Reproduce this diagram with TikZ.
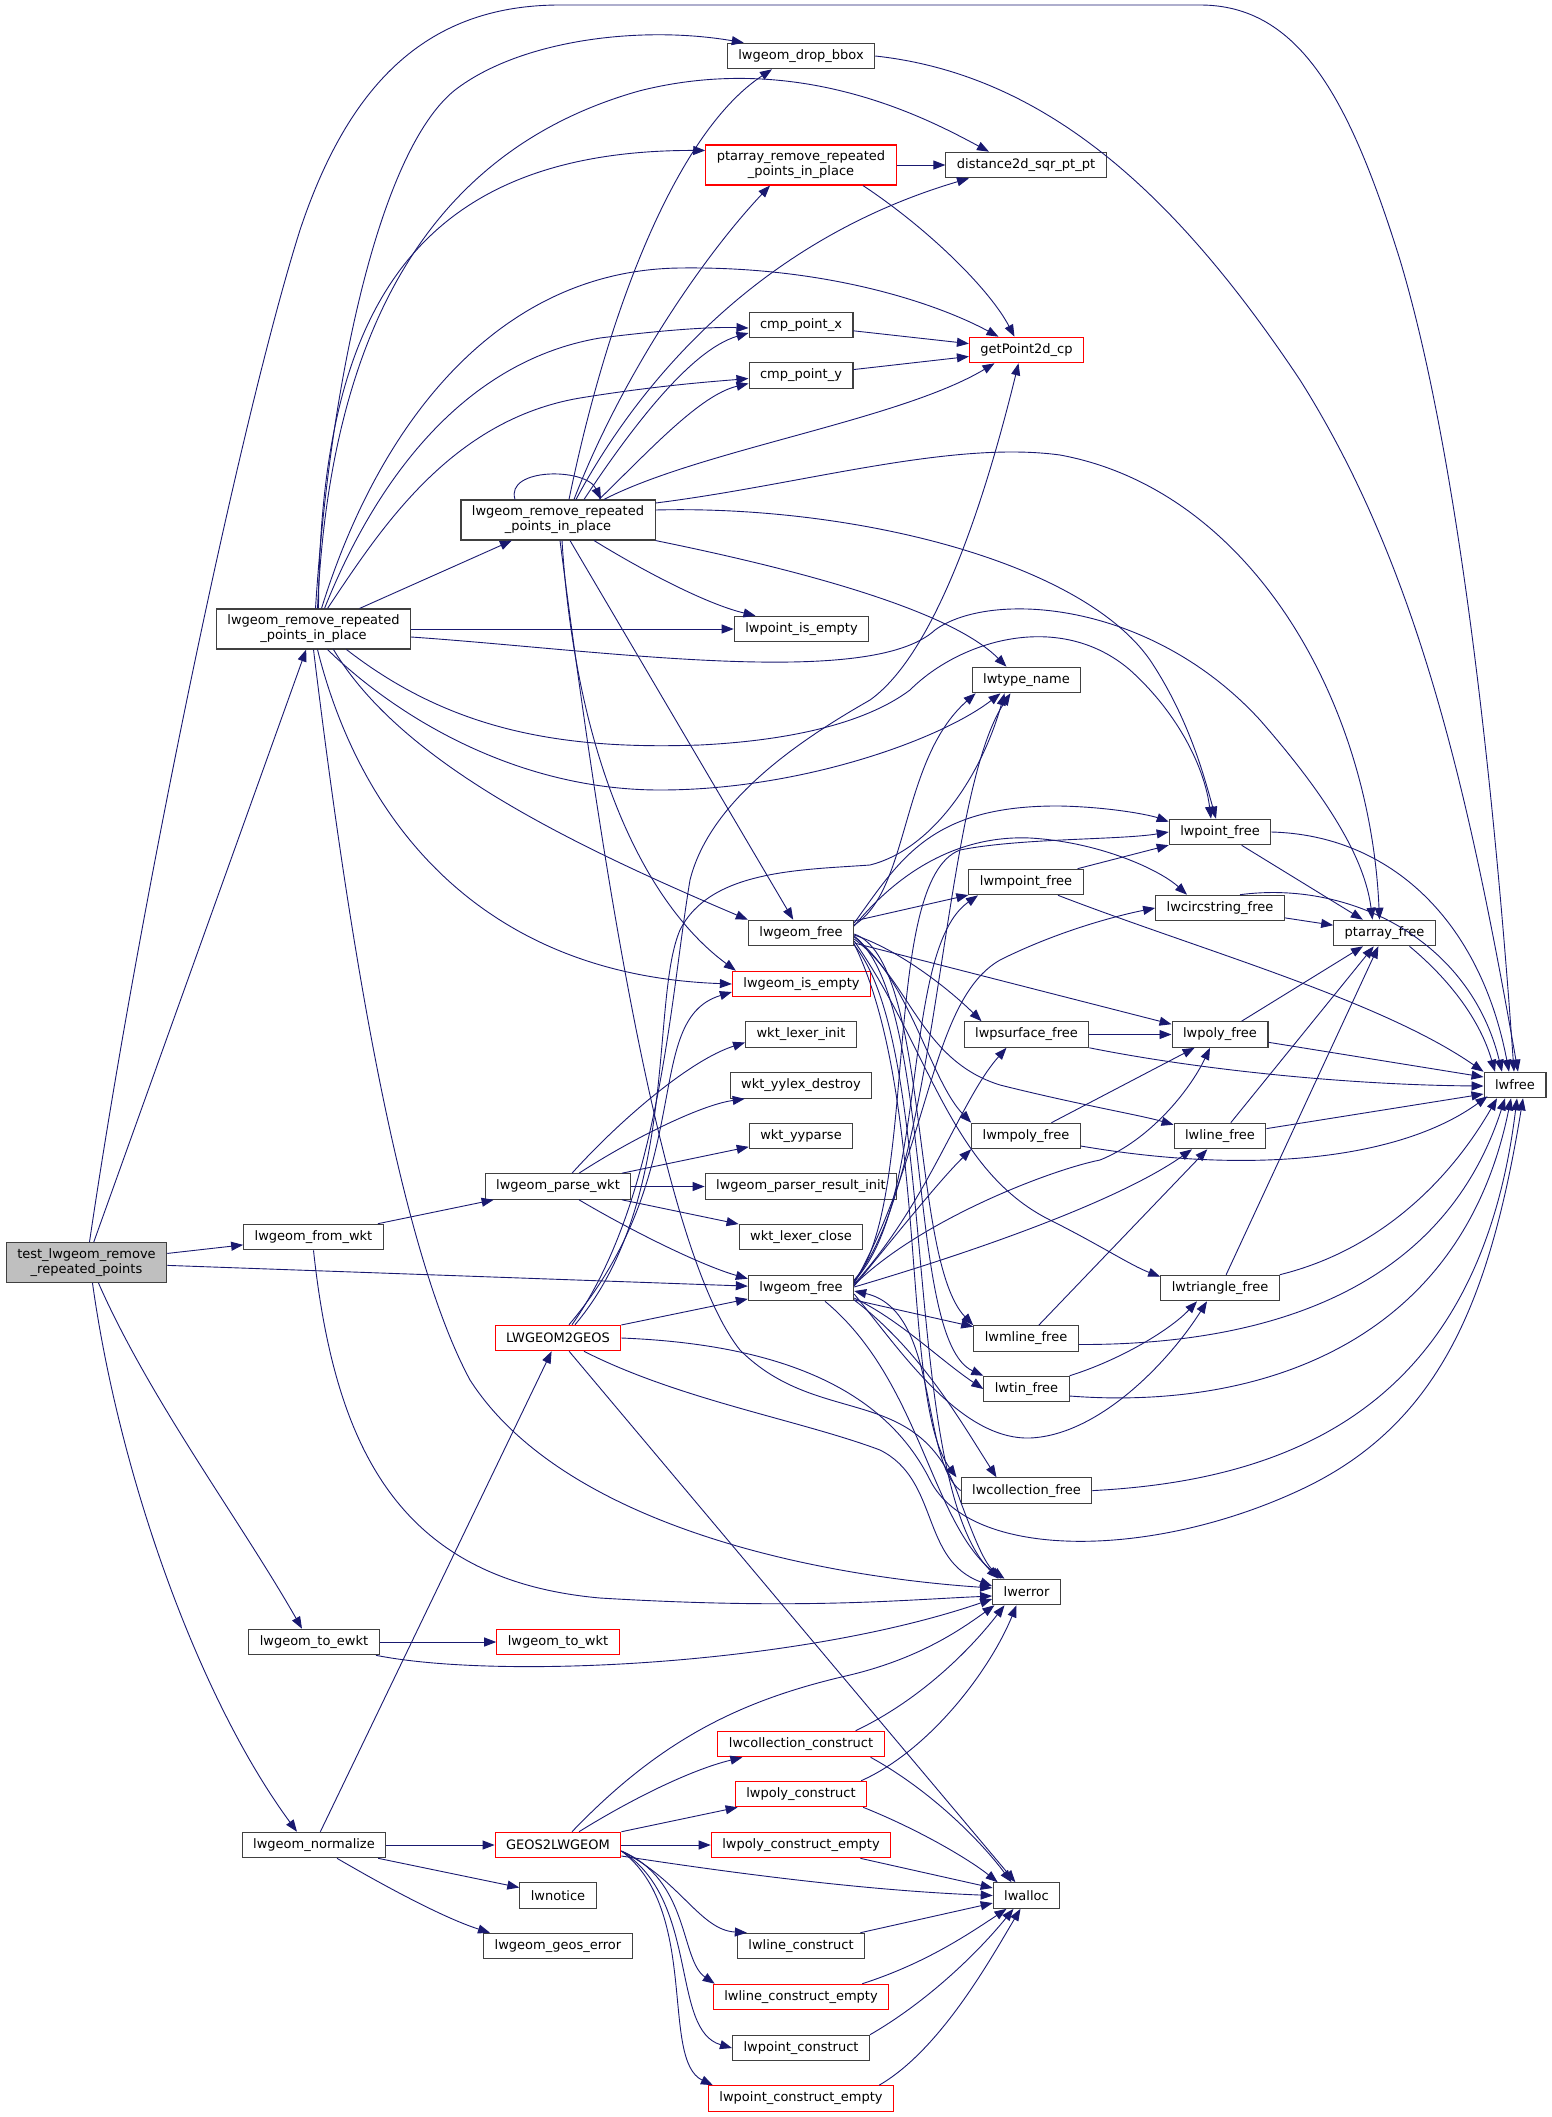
\documentclass[tikz,border=0pt]{standalone}
\usepackage{fontspec}
\setmainfont{DejaVu Sans}
\usetikzlibrary{arrows.meta}
\definecolor{edgeblue}{HTML}{191970}
\definecolor{boxgray}{HTML}{404040}
\definecolor{rootfill}{HTML}{BFBFBF}
\newcommand\fnsize{\fontsize{13pt}{15pt}\selectfont}
\tikzset{
  fn/.style={draw=boxgray, line width=1.1pt, font=\fnsize, inner xsep=11pt, inner ysep=0pt, minimum height=25.5pt, align=center},
  fnr/.style={fn, draw=red},
  fntwo/.style={minimum height=40pt},
  call/.style={draw=edgeblue, line width=0.9pt, -{Triangle[length=12pt,width=9pt]}}
}
\begin{document}
\begin{tikzpicture}[x=1pt,y=-1pt]
\useasboundingbox (0,0) rectangle (1552,2117);

\node[fn,fntwo,fill=rootfill] (T) at (86.5,1262.5) {test\_lwgeom\_remove\\\_repeated\_points};
\node[fn,fntwo] (rrpA) at (313.5,629) {lwgeom\_remove\_repeated\\\_points\_in\_place};
\node[fn,fntwo] (rrpB) at (558,520) {lwgeom\_remove\_repeated\\\_points\_in\_place};
\node[fn] (fromwkt) at (313.5,1237) {lwgeom\_from\_wkt};
\node[fn] (toewkt) at (314,1642) {lwgeom\_to\_ewkt};
\node[fn] (normalize) at (314,1845) {lwgeom\_normalize};
\node[fn] (parsewkt) at (558,1186.5) {lwgeom\_parse\_wkt};
\node[fnr] (geos) at (558,1338) {LWGEOM2GEOS};
\node[fnr] (towkt) at (558,1642) {lwgeom\_to\_wkt};
\node[fnr] (gtol) at (558,1845) {GEOS2LWGEOM};
\node[fn] (notice) at (558,1895.5) {lwnotice};
\node[fn] (geoserr) at (558,1946) {lwgeom\_geos\_error};
\node[fn] (dropbbox) at (801,56) {lwgeom\_drop\_bbox};
\node[fnr,fntwo] (ptrrp) at (801,165) {ptarray\_remove\_repeated\\\_points\_in\_place};
\node[fn] (cmpx) at (801,325) {cmp\_point\_x};
\node[fn] (cmpy) at (801,375.5) {cmp\_point\_y};
\node[fn] (ptempty) at (801.5,629) {lwpoint\_is\_empty};
\node[fn] (gfreeA) at (801,933) {lwgeom\_free};
\node[fnr] (isempty) at (801.5,984) {lwgeom\_is\_empty};
\node[fn] (lexinit) at (801,1034.5) {wkt\_lexer\_init};
\node[fn] (yylex) at (801,1085.5) {wkt\_yylex\_destroy};
\node[fn] (yyparse) at (801,1136) {wkt\_yyparse};
\node[fn] (resinit) at (801,1186.5) {lwgeom\_parser\_result\_init};
\node[fn] (lexclose) at (801,1237) {wkt\_lexer\_close};
\node[fn] (gfreeB) at (801,1288) {lwgeom\_free};
\node[fnr] (colcons) at (801,1744) {lwcollection\_construct};
\node[fnr] (polycons) at (801,1794) {lwpoly\_construct};
\node[fnr] (polyempty) at (801,1845) {lwpoly\_construct\_empty};
\node[fn] (linecons) at (801,1946) {lwline\_construct};
\node[fnr] (lineempty) at (801,1997) {lwline\_construct\_empty};
\node[fn] (ptcons) at (801,2048) {lwpoint\_construct};
\node[fnr] (ptconsempty) at (801,2098.5) {lwpoint\_construct\_empty};
\node[fn] (dist) at (1026,165) {distance2d\_sqr\_pt\_pt};
\node[fnr] (getpt) at (1026.5,350) {getPoint2d\_cp};
\node[fn] (typename) at (1026.5,680) {lwtype\_name};
\node[fn] (mpointfree) at (1026,882) {lwmpoint\_free};
\node[fn] (psurffree) at (1026.5,1034.5) {lwpsurface\_free};
\node[fn] (mpolyfree) at (1026,1136) {lwmpoly\_free};
\node[fn] (mlinefree) at (1026,1338.5) {lwmline\_free};
\node[fn] (tinfree) at (1026.5,1389) {lwtin\_free};
\node[fn] (colfree) at (1026.5,1490.6) {lwcollection\_free};
\node[fn] (lwerror) at (1026.5,1592) {lwerror};
\node[fn] (lwalloc) at (1026.5,1895.5) {lwalloc};
\node[fn] (ptfree) at (1220,832) {lwpoint\_free};
\node[fn] (circfree) at (1220,908) {lwcircstring\_free};
\node[fn] (polyfree) at (1220,1034.5) {lwpoly\_free};
\node[fn] (linefree) at (1220,1136) {lwline\_free};
\node[fn] (trifree) at (1220,1288) {lwtriangle\_free};
\node[fn] (ptarrfree) at (1384.5,933) {ptarray\_free};
\node[fn] (lwfree) at (1515,1085) {lwfree};

% test
\draw[call] (T) -- (rrpA);
\draw[call] ([xshift=3pt]T.north) .. controls (140,900) and (240,420) .. (300,230) .. controls (350,80) and (430,5) .. (560,5) -- (1200,5) .. controls (1300,5) and (1350,100) .. (1400,260) .. controls (1460,460) and (1495,800) .. ([xshift=-1pt]lwfree.north);
\draw[call] (T) -- (fromwkt);
\draw[call] (T) -- (gfreeB);
\draw[call] ([xshift=12pt]T.south) .. controls (150,1400) and (240,1520) .. ([xshift=-12pt]toewkt.north);
\draw[call] ([xshift=6pt]T.south) .. controls (120,1480) and (200,1700) .. ([xshift=-17pt]normalize.north);

% outer remove_repeated
\draw[call] ([xshift=2pt]rrpA.north) .. controls (330,380) and (380,150) .. (455,90) .. controls (520,40) and (640,25) .. ([xshift=17pt]dropbbox.north west);
\draw[call] ([xshift=4pt]rrpA.north) .. controls (330,330) and (430,150) .. (639,91) .. controls (800,50) and (930,120) .. ([xshift=-37pt]dist.north);
\draw[call] ([xshift=5pt]rrpA.north) .. controls (320,330) and (400,150) .. ([yshift=-6pt]ptrrp.north west);
\draw[call] ([xshift=8pt]rrpA.north) .. controls (380,420) and (500,270) .. (680,268) .. controls (830,266) and (940,305) .. ([xshift=-28pt]getpt.north);
\draw[call] ([xshift=11pt]rrpA.north) .. controls (380,470) and (470,360) .. (600,338) .. controls (680,328) and (720,327) .. ([yshift=-3pt]cmpx.west);
\draw[call] ([xshift=14pt]rrpA.north) .. controls (380,530) and (450,420) .. (580,398) .. controls (660,385) and (720,381) .. ([yshift=-3pt]cmpy.west);
\draw[call] (rrpA) -- (rrpB);
\draw[call] (rrpA) -- (ptempty);
\draw[call] ([yshift=-8pt]rrpA.east) .. controls (600,650) and (870,690) .. (935,630) .. controls (990,590) and (1150,600) .. (1260,720) .. controls (1330,800) and (1365,860) .. ([xshift=-12pt]ptarrfree.north);
\draw[call] ([xshift=33pt]rrpA.south) .. controls (450,730) and (560,750) .. (700,745) .. controls (800,740) and (870,720) .. (910,690) .. controls (960,640) and (1060,610) .. (1130,670) .. controls (1180,715) and (1205,770) .. ([xshift=-9pt]ptfree.north);
\draw[call] ([xshift=14pt]rrpA.south) .. controls (400,720) and (520,790) .. (660,790) .. controls (800,790) and (940,740) .. ([xshift=-26pt]typename.south);
\draw[call] ([xshift=20pt]rrpA.south) .. controls (400,760) and (560,840) .. (gfreeA.north west);
\draw[call] ([xshift=4pt]rrpA.south) .. controls (360,820) and (480,975) .. (isempty.west);
\draw[call] (rrpA.south) .. controls (350,950) and (400,1250) .. (470,1380) .. controls (560,1520) and (800,1575) .. ([yshift=4pt]lwerror.west);

% inner remove_repeated
\draw[call] ([xshift=-43pt]rrpB.north) .. controls +(-10,-32) and +(-15,-32) .. ([xshift=43pt]rrpB.north);
\draw[call] ([xshift=11pt]rrpB.north) .. controls (610,300) and (680,130) .. ([xshift=-29pt]dropbbox.south);
\draw[call] ([xshift=16pt]rrpB.north) .. controls (620,380) and (700,260) .. ([xshift=-31pt]ptrrp.south);
\draw[call] ([xshift=18pt]rrpB.north) .. controls (640,380) and (760,240) .. ([xshift=-57pt]dist.south);
\draw[call] ([xshift=26pt]rrpB.north) .. controls (630,430) and (690,350) .. ([yshift=-8pt]cmpx.west);
\draw[call] ([xshift=41pt]rrpB.north) .. controls (650,450) and (700,395) .. ([yshift=-8pt]cmpy.west);
\draw[call] ([xshift=46pt]rrpB.north) .. controls (700,450) and (900,420) .. ([xshift=-32pt]getpt.south);
\draw[call] ([xshift=36pt]rrpB.south) .. controls (650,575) and (710,605) .. ([xshift=-46pt]ptempty.north);
\draw[call] ([yshift=17pt]rrpB.east) .. controls (800,485) and (950,440) .. (1060,455) .. controls (1250,490) and (1370,700) .. ([xshift=-5pt]ptarrfree.north);
\draw[call] ([yshift=10pt]rrpB.east) .. controls (850,505) and (1080,560) .. (1150,660) .. controls (1190,720) and (1205,780) .. ([xshift=-4pt]ptfree.north);
\draw[call] (rrpB.south east) .. controls (800,570) and (950,610) .. ([xshift=-20pt]typename.north);
\draw[call] (rrpB) -- (gfreeA);
\draw[call] ([xshift=4pt]rrpB.south) .. controls (575,750) and (640,900) .. ([xshift=4pt]isempty.north west);
\draw[call] ([xshift=2pt]rrpB.south) .. controls (600,850) and (660,1250) .. (740,1350) .. controls (820,1430) and (920,1380) .. (960,1500) .. controls (975,1540) and (985,1565) .. ([xshift=-22pt]lwerror.north);

% lwgeom_free, upper
\draw[call] ([yshift=10pt]gfreeA.east) .. controls (900,860) and (930,805) .. (1060,806) .. controls (1110,807) and (1150,815) .. ([yshift=-3pt]ptfree.north west);
\draw[call] (gfreeA) -- (mpointfree);
\draw[call] ([yshift=7pt]gfreeA.east) .. controls (900,870) and (960,835) .. (1030,838) .. controls (1100,842) and (1160,870) .. ([xshift=-33pt]circfree.north);
\draw[call] ([yshift=-2pt]gfreeA.east) .. controls (900,950) and (950,990) .. ([xshift=-45pt]psurffree.north);
\draw[call] ([yshift=-10pt]gfreeA.east) -- ([yshift=-3pt]polyfree.north west);
\draw[call] ([yshift=-4pt]gfreeA.east) .. controls (910,980) and (930,1080) .. (mpolyfree.north west);
\draw[call] ([yshift=-6pt]gfreeA.east) .. controls (910,980) and (920,1060) .. (1000,1085) .. controls (1080,1105) and (1140,1115) .. ([yshift=-2pt]linefree.north west);
\draw[call] ([yshift=-8pt]gfreeA.east) .. controls (930,1050) and (950,1170) .. (1050,1220) .. controls (1100,1245) and (1130,1265) .. ([yshift=-2pt]trifree.north west);
\draw[call] ([yshift=-1pt]gfreeA.east) .. controls (930,960) and (910,1260) .. (mlinefree.north west);
\draw[call] ([yshift=-3pt]gfreeA.east) .. controls (935,1000) and (905,1340) .. (tinfree.north west);
\draw[call] ([yshift=-11pt]gfreeA.east) .. controls (930,1100) and (900,1400) .. ([xshift=-70pt]colfree.north);
\draw[call] ([yshift=8pt]gfreeA.east) .. controls (910,890) and (900,760) .. ([xshift=4pt]typename.south west);
\draw[call] ([yshift=-12pt]gfreeA.east) .. controls (940,1050) and (900,1480) .. ([xshift=-28pt]lwerror.north);

% lwgeom_free, lower
\draw[call] ([yshift=6pt]gfreeB.east) .. controls (920,1200) and (880,880) .. (960,850) .. controls (1020,838) and (1120,840) .. (ptfree.west);
\draw[call] ([yshift=8pt]gfreeB.east) .. controls (940,1180) and (940,800) .. ([xshift=-16pt]typename.south);
\draw[call] ([yshift=7pt]gfreeB.east) .. controls (930,1200) and (900,950) .. ([xshift=-48pt]mpointfree.south);
\draw[call] ([yshift=5pt]gfreeB.east) .. controls (930,1150) and (930,1000) .. (1000,960) .. controls (1060,930) and (1120,915) .. (circfree.west);
\draw[call] ([yshift=4pt]gfreeB.east) .. controls (930,1200) and (960,1100) .. ([xshift=-20pt]psurffree.south);
\draw[call] ([yshift=3pt]gfreeB.east) .. controls (920,1220) and (1050,1170) .. (1100,1160) .. controls (1150,1140) and (1190,1090) .. ([xshift=-10pt]polyfree.south);
\draw[call] ([yshift=2pt]gfreeB.east) .. controls (900,1230) and (940,1180) .. (mpolyfree.south west);
\draw[call] ([yshift=1pt]gfreeB.east) .. controls (980,1250) and (1120,1200) .. ([xshift=-28pt]linefree.south);
\draw[call] ([yshift=-6pt]gfreeB.east) .. controls (900,1350) and (960,1440) .. (1030,1438) .. controls (1100,1435) and (1170,1360) .. ([xshift=-13pt]trifree.south);
\draw[call] (gfreeB) -- (mlinefree);
\draw[call] ([yshift=-10pt]gfreeB.east) .. controls (900,1320) and (940,1360) .. (tinfree.west);
\draw[call] ([yshift=-12pt]gfreeB.east) .. controls (920,1350) and (960,1420) .. ([xshift=-30pt]colfree.north);
\draw[call] ([xshift=24pt]gfreeB.south) .. controls (920,1380) and (930,1520) .. ([xshift=-25pt]lwerror.north);
\draw[call] (colfree.west) .. controls (920,1460) and (940,1310) .. ([yshift=-3pt]gfreeB.east);

% wkt
\draw[call] (fromwkt) -- (parsewkt);
\draw[call] (fromwkt.south) .. controls (335,1450) and (400,1580) .. (600,1598) .. controls (800,1610) and (900,1600) .. ([yshift=-4pt]lwerror.west);
\draw[call] ([xshift=14pt]parsewkt.north) .. controls (620,1120) and (690,1060) .. ([yshift=-8pt]lexinit.west);
\draw[call] ([xshift=21pt]parsewkt.north) .. controls (630,1140) and (700,1105) .. ([xshift=15pt]yylex.south west);
\draw[call] (parsewkt) -- (yyparse);
\draw[call] (parsewkt) -- (resinit);
\draw[call] (parsewkt) -- (lexclose);
\draw[call] ([xshift=21pt]parsewkt.south) .. controls (630,1230) and (700,1265) .. ([yshift=-4pt]gfreeB.north west);

% LWGEOM2GEOS
\draw[call] (geos) -- (gfreeB);
\draw[call] ([xshift=14pt]geos.north) .. controls (660,1200) and (670,1000) .. (690,880) .. controls (710,800) and (800,740) .. (870,700) .. controls (940,650) and (990,480) .. ([xshift=-8pt]getpt.south);
\draw[call] ([xshift=17pt]geos.north) .. controls (680,1200) and (650,1000) .. (680,930) .. controls (710,870) and (800,870) .. (870,865) .. controls (930,850) and (980,780) .. ([xshift=-22pt]typename.south);
\draw[call] ([xshift=11pt]geos.north) .. controls (700,1170) and (640,1020) .. ([yshift=-8pt]isempty.west);
\draw[call] ([xshift=26pt]geos.south) .. controls (680,1400) and (800,1420) .. (880,1450) .. controls (940,1480) and (920,1560) .. ([yshift=6pt]lwerror.west);
\draw[call] (geos.east) .. controls (800,1345) and (890,1400) .. (930,1480) .. controls (970,1560) and (1150,1560) .. (1300,1490) .. controls (1440,1425) and (1490,1300) .. ([xshift=8pt]lwfree.south);
\draw[call] (geos) -- (lwalloc);

% to_ewkt, normalize
\draw[call] (toewkt) -- (towkt);
\draw[call] ([xshift=62pt]toewkt.south) .. controls (500,1680) and (800,1665) .. ([yshift=-7pt]lwerror.west);
\draw[call] (normalize) -- (geos);
\draw[call] (normalize) -- (gtol);
\draw[call] (normalize) -- (notice);
\draw[call] ([xshift=23pt]normalize.south) .. controls (400,1895) and (450,1920) .. ([xshift=-68pt]geoserr.north);

% GEOS2LWGEOM
\draw[call] ([xshift=21pt]gtol.north) .. controls (630,1800) and (690,1770) .. ([xshift=25pt]colcons.south west);
\draw[call] (gtol) -- (polycons);
\draw[call] (gtol) -- (polyempty);
\draw[call] ([xshift=14pt]gtol.north) .. controls (660,1740) and (740,1700) .. (850,1675) .. controls (920,1658) and (960,1630) .. ([xshift=-32pt]lwerror.south);
\draw[call] ([yshift=-11pt]gtol.east) .. controls (700,1868) and (850,1890) .. (lwalloc.west);
\draw[call] ([yshift=-6pt]gtol.east) .. controls (680,1880) and (700,1930) .. ([xshift=10pt]linecons.north west);
\draw[call] ([yshift=-6pt]gtol.east) .. controls (690,1880) and (680,1960) .. ([xshift=2pt]lineempty.north west);
\draw[call] ([yshift=-6pt]gtol.east) .. controls (700,1900) and (670,2030) .. (ptcons.west);
\draw[call] ([yshift=-6pt]gtol.east) .. controls (700,1910) and (660,2060) .. ([xshift=5pt]ptconsempty.north west);

% constructors
\draw[call] ([xshift=-29pt]colcons.north east) .. controls (920,1700) and (970,1650) .. ([xshift=-22pt]lwerror.south);
\draw[call] ([xshift=-6pt]polycons.north east) .. controls (930,1750) and (990,1670) .. ([xshift=-10pt]lwerror.south);
\draw[call] ([xshift=-14pt]colcons.south east) .. controls (930,1790) and (980,1840) .. ([xshift=-15pt]lwalloc.north);
\draw[call] ([xshift=-4pt]polycons.south east) .. controls (920,1830) and (970,1860) .. ([xshift=5pt]lwalloc.north west);
\draw[call] (polyempty) -- (lwalloc);
\draw[call] (linecons) -- (lwalloc);
\draw[call] ([xshift=-27pt]lineempty.north east) .. controls (920,1965) and (960,1940) .. ([xshift=-20pt]lwalloc.south);
\draw[call] (ptcons.north east) .. controls (930,2000) and (980,1950) .. ([xshift=-13pt]lwalloc.south);
\draw[call] ([xshift=-15pt]ptconsempty.north east) .. controls (940,2050) and (990,1960) .. ([xshift=-6pt]lwalloc.south);

% ptarray, free functions
\draw[call] (ptrrp) -- (dist);
\draw[call] ([xshift=62pt]ptrrp.south) .. controls (930,230) and (990,290) .. ([xshift=-12pt]getpt.north);
\draw[call] (cmpx) -- (getpt);
\draw[call] (cmpy) -- (getpt);
\draw[call] (dropbbox.east) .. controls (1050,75) and (1180,200) .. (1300,380) .. controls (1420,570) and (1470,800) .. ([xshift=3pt]lwfree.north);
\draw[call] (ptfree) -- (ptarrfree);
\draw[call] (ptfree.east) .. controls (1390,835) and (1480,920) .. ([xshift=-6pt]lwfree.north);
\draw[call] ([xshift=20pt]circfree.north) .. controls (1350,880) and (1470,940) .. ([xshift=-13pt]lwfree.north);
\draw[call] (circfree) -- (ptarrfree);
\draw[call] ([xshift=25pt]ptarrfree.south) .. controls (1450,980) and (1480,1020) .. ([xshift=-20pt]lwfree.north);
\draw[call] (mpointfree) -- (ptfree);
\draw[call] ([xshift=32pt]mpointfree.south) .. controls (1200,950) and (1380,1000) .. (lwfree.north west);
\draw[call] (psurffree) -- (polyfree);
\draw[call] (psurffree.south east) .. controls (1200,1070) and (1350,1085) .. ([yshift=-1pt]lwfree.west);
\draw[call] (polyfree) -- (ptarrfree);
\draw[call] (polyfree) -- ([yshift=8pt]lwfree.west);
\draw[call] (mpolyfree) -- (polyfree);
\draw[call] ([yshift=-10pt]mpolyfree.east) .. controls (1250,1175) and (1400,1160) .. ([xshift=4pt,yshift=2pt]lwfree.south west);
\draw[call] (linefree) -- (ptarrfree);
\draw[call] (linefree) -- ([yshift=-9pt]lwfree.west);
\draw[call] (mlinefree) -- (linefree);
\draw[call] ([yshift=-6pt]mlinefree.east) .. controls (1250,1345) and (1440,1300) .. ([xshift=-10pt]lwfree.south);
\draw[call] (trifree) -- (ptarrfree);
\draw[call] (trifree.north east) .. controls (1380,1250) and (1450,1180) .. ([xshift=-18pt]lwfree.south);
\draw[call] (tinfree.north east) .. controls (1120,1360) and (1170,1330) .. ([xshift=-23pt]trifree.south);
\draw[call] ([yshift=-7pt]tinfree.east) .. controls (1250,1410) and (1460,1350) .. ([xshift=-4pt]lwfree.south);
\draw[call] (colfree.east) .. controls (1300,1480) and (1480,1400) .. ([xshift=2pt]lwfree.south);
\end{tikzpicture}
\end{document}
